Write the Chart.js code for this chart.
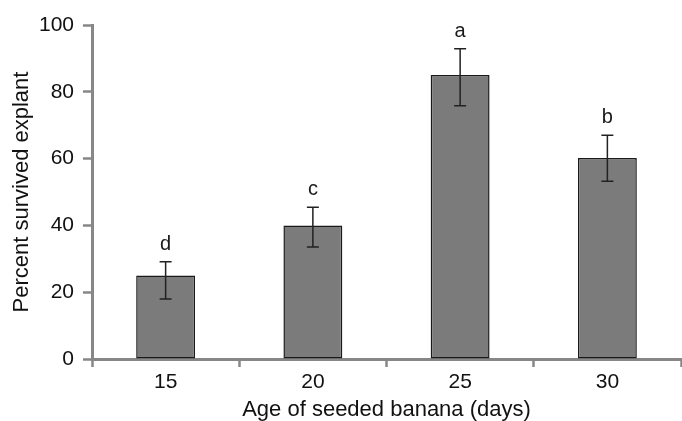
<!DOCTYPE html>
<html>
<head>
<meta charset="utf-8">
<script src="https://cdn.jsdelivr.net/npm/chart.js@4"></script>
<style>
  html, body { margin: 0; padding: 0; background: #fff; }
  #wrap { width: 682px; height: 421px; }
</style>
</head>
<body>
<div id="wrap"><canvas id="c" width="682" height="421"></canvas></div>
<script>
const categories = ['15', '20', '25', '30'];
const survival = [25, 40, 85, 60.2];
const errLower = [18, 33.5, 75.8, 53.2];
const errUpper = [29.1, 45.4, 92.9, 67];
const letters = ['d', 'c', 'a', 'b'];
const yTicks = [0, 20, 40, 60, 80, 100];

const FONT = '"Liberation Sans", Arial, sans-serif';
const AXIS = '#878787';

const errorBarPlugin = {
  id: 'errorBars',
  afterDatasetsDraw(chart) {
    const ctx = chart.ctx;
    const meta = chart.getDatasetMeta(0);
    const y = chart.scales.y;
    ctx.save();
    ctx.strokeStyle = '#222';
    ctx.lineWidth = 1.5;
    ctx.fillStyle = '#1a1a1a';
    ctx.font = '20px ' + FONT;
    ctx.textAlign = 'center';
    ctx.textBaseline = 'alphabetic';
    meta.data.forEach((bar, i) => {
      const x = bar.x;
      const yt = y.getPixelForValue(errUpper[i]);
      const yb = y.getPixelForValue(errLower[i]);
      const cap = 6;
      ctx.beginPath();
      ctx.moveTo(x, yt); ctx.lineTo(x, yb);
      ctx.moveTo(x - cap, yt); ctx.lineTo(x + cap, yt);
      ctx.moveTo(x - cap, yb); ctx.lineTo(x + cap, yb);
      ctx.stroke();
      ctx.fillText(letters[i], x, yt - 12);
    });
    ctx.restore();
  }
};

new Chart(document.getElementById('c'), {
  type: 'bar',
  data: {
    labels: categories,
    datasets: [{
      data: survival,
      backgroundColor: '#7b7b7b',
      borderColor: '#1a1a1a',
      borderWidth: 1.5,
      borderSkipped: false,
      categoryPercentage: 1,
      barPercentage: 0.4
    }]
  },
  options: {
    responsive: false,
    animation: false,
    devicePixelRatio: 1,
    layout: { padding: { top: 25, right: 1, left: 0, bottom: 0 } },
    plugins: { legend: { display: false }, tooltip: { enabled: false } },
    scales: {
      x: {
        offset: true,
        afterFit(s) { s.height = 62; },
        grid: {
          offset: true,
          drawOnChartArea: false,
          drawTicks: true,
          tickLength: 8,
          tickColor: AXIS,
          tickWidth: 2.5
        },
        border: { display: true, color: AXIS, width: 3 },
        ticks: {
          color: '#111',
          font: { family: FONT, size: 21 },
          padding: 3,
          maxRotation: 0
        },
        title: {
          display: true,
          text: 'Age of seeded banana (days)',
          color: '#111',
          font: { family: FONT, size: 22, lineHeight: 1.0 },
          padding: { top: 0, bottom: 0 }
        }
      },
      y: {
        min: 0,
        max: 100,
        afterFit(s) { s.width = 92; },
        afterBuildTicks(s) { s.ticks = yTicks.map(v => ({ value: v })); },
        grid: {
          drawOnChartArea: false,
          drawTicks: true,
          tickLength: 9,
          tickColor: AXIS,
          tickWidth: 2.5
        },
        border: { display: true, color: AXIS, width: 3 },
        ticks: {
          color: '#111',
          font: { family: FONT, size: 21 },
          padding: 9
        },
        title: {
          display: true,
          text: 'Percent survived explant',
          color: '#111',
          font: { family: FONT, size: 22, lineHeight: 1.2 },
          padding: { top: 9, bottom: 0 }
        }
      }
    }
  },
  plugins: [errorBarPlugin]
});
</script>
</body>
</html>
